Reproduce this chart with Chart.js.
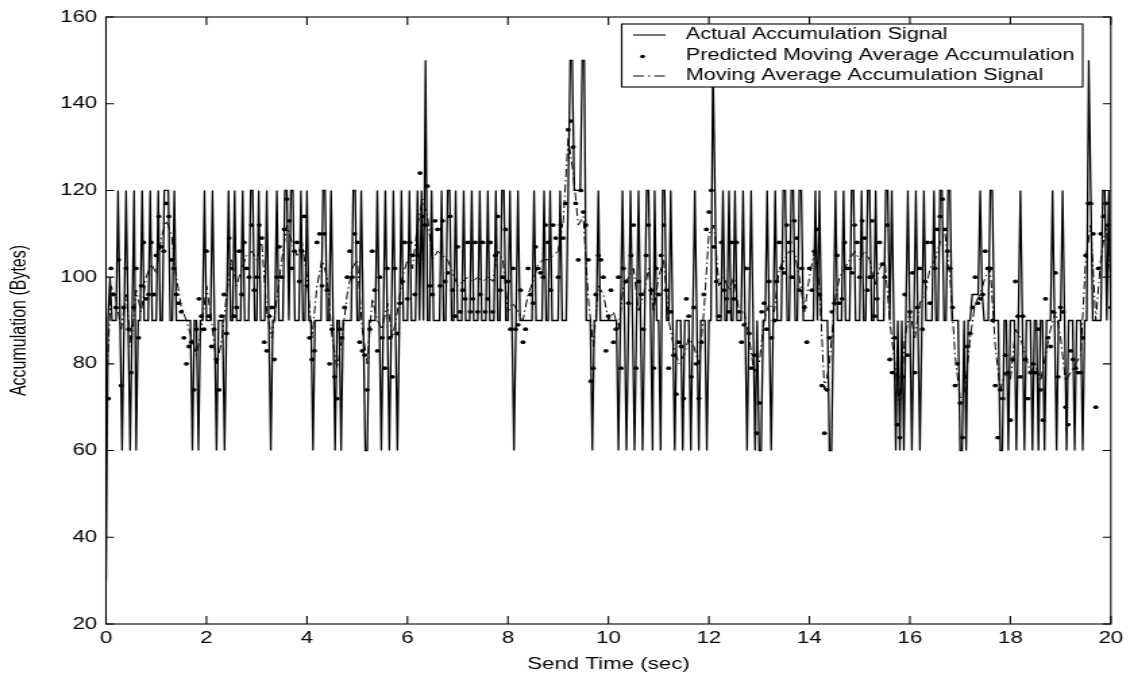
<!DOCTYPE html>
<html>
<head>
<meta charset="utf-8">
<script src="https://cdn.jsdelivr.net/npm/chart.js@4.4.1/dist/chart.umd.min.js"></script>
<style>
  html, body { margin: 0; padding: 0; background: #fff; overflow: hidden; }
  #wrap { width: 837px; height: 687px; transform: scaleX(1.35); transform-origin: 0 0; }
</style>
</head>
<body>
<div id="wrap"><canvas id="chart" width="837" height="687"></canvas></div>
<script>
// sample spacing (sec) of each series
const SAMPLE_DT = 0.04;
const PRED_DT = 0.05;
const AVG_DT = 0.1;

// Actual accumulation signal, one value every 0.04 s (25 per row = 1 sec)
const actualSignal = [
  30,90,100,90,90,90,120,90,60,90,120,90,60,90,120,60,90,90,120,90,90,90,120,90,90,
  90,120,90,90,120,120,120,90,90,120,90,90,90,90,90,90,90,90,60,90,90,60,90,90,120,
  90,90,90,120,90,60,90,90,90,60,90,120,90,90,120,90,90,90,120,90,90,90,120,120,90,
  90,120,90,90,90,120,90,60,90,90,120,90,90,90,120,120,90,120,120,90,90,90,120,90,90,
  120,90,90,60,90,90,90,90,120,120,90,90,120,90,60,90,90,60,90,90,90,90,90,120,120,
  90,90,120,90,60,60,90,90,90,90,120,90,60,90,120,90,60,90,120,90,60,90,120,90,90,
  90,120,90,90,90,120,90,120,90,150,90,90,120,90,90,90,90,120,90,90,120,120,90,90,120,
  90,90,90,120,90,90,90,120,90,90,90,120,90,90,90,120,90,90,90,120,90,90,120,120,90,
  90,120,90,60,90,120,90,90,90,90,90,90,90,120,90,90,90,90,120,90,90,120,90,90,90,
  90,120,90,90,90,120,150,150,120,120,120,120,150,150,90,90,90,60,90,90,120,90,90,90,90,
  90,90,90,90,90,60,90,120,90,60,90,120,90,60,90,120,90,60,90,120,120,90,60,120,90,
  90,60,120,120,90,90,120,90,60,90,90,90,60,90,90,90,60,90,120,90,60,90,90,90,60,
  90,90,150,120,90,90,90,120,90,90,120,90,90,120,90,90,90,120,90,60,90,120,90,60,90,
  60,60,90,90,120,90,60,90,120,90,90,90,120,120,90,90,120,120,90,90,120,120,90,90,90,
  90,90,90,120,90,120,90,90,90,90,60,60,90,120,90,90,90,120,90,90,90,120,120,90,90,
  90,120,90,90,120,120,90,90,120,90,90,90,90,120,120,90,120,90,60,90,60,90,60,90,120,
  90,60,90,120,90,60,90,120,90,90,90,90,120,90,90,120,120,90,90,120,120,90,90,90,90,
  60,60,90,60,90,90,96,96,96,96,120,96,90,90,90,120,120,90,90,90,60,60,90,90,60,
  90,90,90,60,90,120,90,60,90,90,90,60,90,90,60,90,90,60,90,90,90,120,90,60,90,
  90,120,90,60,90,90,90,60,90,90,90,60,90,90,150,120,90,90,90,90,90,120,120,90,120,
  90
];

// Predicted moving average accumulation, one dot every 0.05 s from t = 0.05
const predictedAvg = [
  72,102,96,93,104,75,93,102,88,78,93,102,86,98,108,95,96,108,96,105,
  114,107,106,117,114,104,102,96,94,92,86,80,84,85,74,88,95,91,88,106,
  91,84,88,81,74,91,96,87,109,102,91,93,106,96,108,102,100,112,97,100,
  112,109,85,83,91,93,81,100,107,100,111,118,113,102,106,108,99,106,114,98,
  86,81,83,108,110,98,110,97,80,88,77,72,88,86,93,100,106,100,110,108,
  85,83,82,74,88,106,97,83,100,86,79,102,86,77,102,87,94,99,108,95,
  108,105,96,105,124,114,112,121,98,96,113,111,98,113,99,101,114,97,91,107,
  92,97,95,108,92,95,108,92,96,108,92,95,108,92,105,114,97,100,111,99,
  88,102,88,89,97,85,88,102,96,94,107,102,101,100,112,108,97,112,109,100,
  112,109,117,134,136,130,117,104,120,115,112,104,76,79,96,105,104,100,83,91,
  97,85,88,100,79,102,99,94,105,112,79,99,96,88,105,112,97,79,102,96,
  105,112,97,79,92,82,73,85,84,72,95,91,77,93,80,72,85,96,111,115,
  120,107,99,91,108,97,95,92,108,95,108,92,85,89,102,87,79,82,64,71,
  92,94,88,99,86,90,99,108,102,101,112,108,100,113,109,97,102,93,85,102,
  97,106,111,96,75,64,74,86,92,94,105,94,95,108,102,102,101,112,108,100,
  113,109,97,100,113,91,95,108,103,100,112,81,78,86,66,63,77,96,82,92,
  101,78,93,102,88,99,108,94,108,102,111,114,118,111,106,102,93,75,80,71,
  63,77,84,87,93,100,94,95,96,106,102,102,90,75,63,74,72,82,78,67,
  81,99,91,77,91,81,72,78,80,78,88,74,67,95,86,84,92,101,77,93,
  92,70,66,83,81,79,78,78,86,105,117,117,110,70,102,110,114,117,112,93
];

// Moving average accumulation signal, every 0.1 s from t = 0
const movingAvg = [
  72,98,95,88,96,84,97,92,100,103,101,109,113,110,100,93,90,86,82,88,
  98,90,80,85,96,104,98,102,105,106,104,108,92,86,95,104,112,108,105,108,
  100,86,98,104,100,86,79,86,96,102,104,88,80,95,90,88,94,86,92,100,
  104,102,112,118,114,104,106,105,104,101,98,99,100,99,100,99,100,99,106,104,
  92,94,92,90,96,99,103,104,104,105,106,113,132,124,112,114,95,84,98,96,
  90,92,88,98,100,102,92,96,102,92,100,104,90,84,80,82,86,84,80,92,
  110,112,98,100,97,100,92,92,86,78,80,90,94,92,102,104,106,106,100,92,
  100,106,98,74,80,94,100,102,104,106,104,106,104,98,102,104,90,80,70,86,
  92,86,94,96,102,104,108,110,100,82,72,74,86,94,96,100,102,84,74,78,
  76,88,86,82,78,80,76,82,88,92,86,76,78,80,82,104,112,90,104,112,
  100
];

const xTicks = [0, 2, 4, 6, 8, 10, 12, 14, 16, 18, 20];
const yTicks = [20, 40, 60, 80, 100, 120, 140, 160];
const legendLabels = [
  "Actual Accumulation Signal",
  "Predicted Moving Average Accumulation",
  "Moving Average Accumulation Signal"
];

const FONT = '"Liberation Sans", Arial, Helvetica, sans-serif';

function toPoints(values, dt, start) {
  return values.map((v, i) => ({ x: +(start + i * dt).toFixed(3), y: v }));
}

// box, inward ticks and legend, matlab style
const frame = {
  id: "frame",
  afterDatasetsDraw(chart) {
    const { ctx, chartArea: a, scales } = chart;
    ctx.save();
    ctx.strokeStyle = "#000";
    ctx.lineWidth = 1.1;
    ctx.strokeRect(a.left, a.top, a.right - a.left, a.bottom - a.top);
    ctx.beginPath();
    xTicks.forEach((t) => {
      const px = scales.x.getPixelForValue(t);
      ctx.moveTo(px, a.bottom); ctx.lineTo(px, a.bottom - 8);
      ctx.moveTo(px, a.top); ctx.lineTo(px, a.top + 8);
    });
    yTicks.forEach((t) => {
      const py = scales.y.getPixelForValue(t);
      ctx.moveTo(a.left, py); ctx.lineTo(a.left + 6, py);
      ctx.moveTo(a.right, py); ctx.lineTo(a.right - 6, py);
    });
    ctx.stroke();

    // legend
    const bx = 460.5, by = 24, bw = 341.5, bh = 63;
    ctx.fillStyle = "#fff";
    ctx.fillRect(bx, by, bw, bh);
    ctx.strokeRect(bx, by, bw, bh);
    ctx.font = "16px " + FONT;
    ctx.fillStyle = "#000";
    ctx.textBaseline = "middle";
    const rows = [by + 11, by + 31.5, by + 52];
    legendLabels.forEach((txt, i) => ctx.fillText(txt, 508, rows[i]));
    ctx.beginPath();
    ctx.moveTo(469, rows[0]); ctx.lineTo(493, rows[0]);
    ctx.stroke();
    ctx.beginPath();
    ctx.arc(476, rows[1] + 1, 1.8, 0, Math.PI * 2);
    ctx.fill();
    ctx.setLineDash([8, 3, 1.5, 3]);
    ctx.beginPath();
    ctx.moveTo(469, rows[2]); ctx.lineTo(493, rows[2]);
    ctx.stroke();
    ctx.restore();
  }
};

new Chart(document.getElementById("chart"), {
  type: "line",
  data: {
    datasets: [
      {
        label: legendLabels[1],
        data: toPoints(predictedAvg, PRED_DT, PRED_DT),
        showLine: false,
        pointRadius: 1.9,
        pointBackgroundColor: "#000",
        pointBorderWidth: 0,
        order: 1,
      },
      {
        label: legendLabels[2],
        data: toPoints(movingAvg, AVG_DT, 0),
        borderColor: "#000",
        borderWidth: 1,
        borderDash: [8, 3, 1.5, 3],
        pointRadius: 0,
        tension: 0,
        order: 2,
      },
      {
        label: legendLabels[0],
        data: toPoints(actualSignal, SAMPLE_DT, 0),
        borderColor: "#000",
        borderWidth: 1.3,
        pointRadius: 0,
        tension: 0,
        order: 3,
      },
    ],
  },
  options: {
    responsive: false,
    animation: false,
    devicePixelRatio: 1,
    layout: { padding: { left: 0, top: 17, right: 14, bottom: 0 } },
    plugins: { legend: { display: false }, tooltip: { enabled: false } },
    scales: {
      x: {
        type: "linear",
        min: 0,
        max: 20,
        afterBuildTicks: (s) => { s.ticks = xTicks.map((v) => ({ value: v })); },
        afterFit: (s) => { s.height = 63; },
        grid: { display: false, drawTicks: false },
        border: { display: false },
        ticks: { color: "#000", padding: 5, maxRotation: 0, font: { family: FONT, size: 16.5 } },
        title: {
          display: true,
          text: "Send Time (sec)",
          color: "#000",
          font: { family: FONT, size: 16.5 },
          padding: { top: 0, bottom: 13 },
        },
      },
      y: {
        type: "linear",
        min: 20,
        max: 160,
        afterBuildTicks: (s) => { s.ticks = yTicks.map((v) => ({ value: v })); },
        afterFit: (s) => { s.width = 78.5; },
        grid: { display: false, drawTicks: false },
        border: { display: false },
        ticks: { color: "#000", padding: 6.5, font: { family: FONT, size: 16.5 } },
        title: {
          display: true,
          text: "Accumulation (Bytes)",
          color: "#000",
          font: { family: FONT, size: 16 },
          padding: { top: 5, bottom: 0 },
        },
      },
    },
  },
  plugins: [frame],
});
</script>
</body>
</html>
